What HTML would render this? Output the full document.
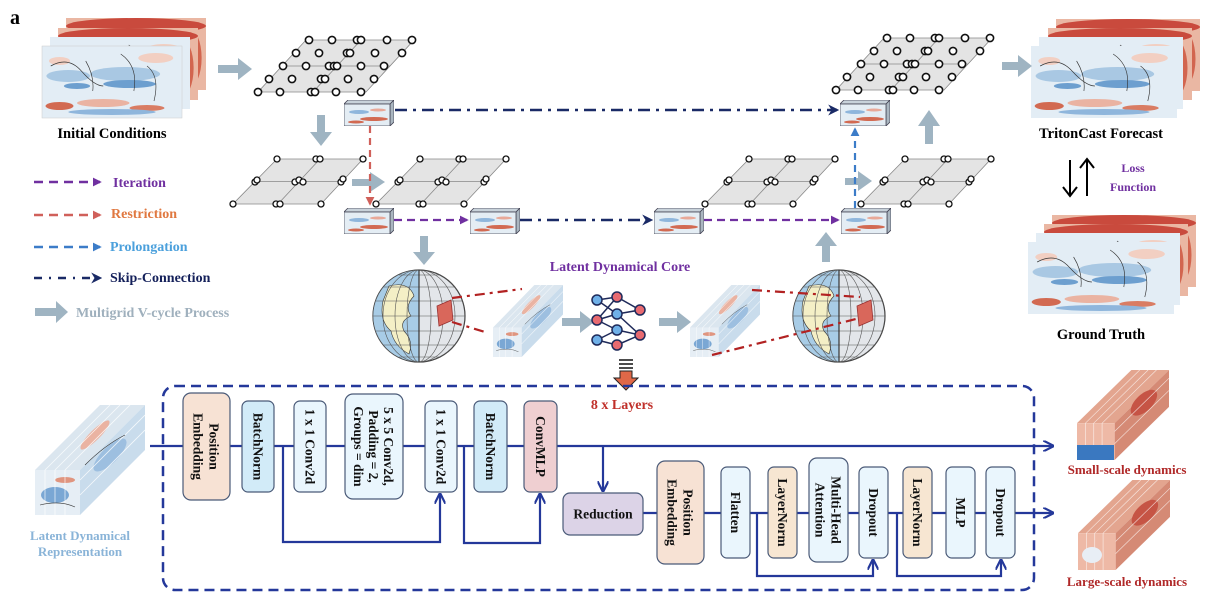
<!DOCTYPE html>
<html><head><meta charset="utf-8"><style>
html,body{margin:0;padding:0;background:#fff;}
svg{display:block;}
text{font-family:"Liberation Serif",serif;font-weight:bold;}
</style></head><body>
<svg width="1220" height="602" viewBox="0 0 1220 602" xmlns="http://www.w3.org/2000/svg">
<defs>
<symbol id="map" viewBox="0 0 160 72" preserveAspectRatio="none">
<rect width="160" height="72" fill="#e3edf5"/>
<ellipse cx="30" cy="30" rx="25" ry="6" fill="#a9c8e3"/>
<ellipse cx="95" cy="28" rx="40" ry="7" fill="#a9c8e3"/>
<ellipse cx="100" cy="38" rx="30" ry="4" fill="#6d9fcf"/>
<ellipse cx="40" cy="40" rx="15" ry="3" fill="#6d9fcf"/>
<ellipse cx="20" cy="15" rx="12" ry="4" fill="#f2cfc2"/>
<ellipse cx="130" cy="12" rx="20" ry="5" fill="#f2cfc2"/>
<ellipse cx="20" cy="60" rx="16" ry="4" fill="#d26a52"/>
<ellipse cx="70" cy="57" rx="30" ry="4" fill="#eab3a2"/>
<ellipse cx="120" cy="62" rx="20" ry="3" fill="#d97c63"/>
<ellipse cx="80" cy="66" rx="50" ry="3" fill="#8fb6dc"/>
<path d="M10 20 Q30 10 45 25 T70 40 M90 8 Q110 20 105 45 M120 20 Q135 30 128 55 M50 15 Q60 30 58 45" stroke="#333" stroke-width="0.7" fill="none"/>
</symbol>
<symbol id="mapred" viewBox="0 0 160 72" preserveAspectRatio="none">
<rect width="160" height="72" fill="#eab7a3"/>
<ellipse cx="80" cy="8" rx="80" ry="8" fill="#c94a3d"/>
<ellipse cx="140" cy="40" rx="15" ry="30" fill="#d2654f"/>
<path d="M10 15 Q40 5 70 18 T140 12" stroke="#333" stroke-width="0.7" fill="none"/>
</symbol>
<symbol id="fbox" viewBox="0 0 50 26">
<polygon points="0,4 4,0 50,0 46,4" fill="#c8d2da" stroke="#445" stroke-width="0.8"/>
<polygon points="46,4 50,0 50,22 46,26" fill="#aab6c0" stroke="#445" stroke-width="0.8"/>
<rect x="0" y="4" width="46" height="22" fill="#e4edf4" stroke="#445" stroke-width="0.8"/>
<ellipse cx="15" cy="12" rx="10" ry="2" fill="#8fb6dc"/>
<ellipse cx="30" cy="19" rx="14" ry="2" fill="#d26a52"/>
<ellipse cx="12" cy="22" rx="8" ry="1.5" fill="#d26a52"/>
<ellipse cx="34" cy="10" rx="8" ry="1.5" fill="#e8a898"/>
</symbol>
<marker id="ap" viewBox="0 0 10 10" refX="8" refY="5" markerUnits="userSpaceOnUse" markerWidth="9" markerHeight="9" orient="auto"><path d="M0 0L10 5L0 10z" fill="#7030a0"/></marker>
<marker id="ar" viewBox="0 0 10 10" refX="8" refY="5" markerUnits="userSpaceOnUse" markerWidth="9" markerHeight="9" orient="auto"><path d="M0 0L10 5L0 10z" fill="#d0605a"/></marker>
<marker id="ab" viewBox="0 0 10 10" refX="8" refY="5" markerUnits="userSpaceOnUse" markerWidth="9" markerHeight="9" orient="auto"><path d="M0 0L10 5L0 10z" fill="#3c7cc8"/></marker>
<marker id="an" viewBox="0 0 10 10" refX="8" refY="5" markerUnits="userSpaceOnUse" markerWidth="11" markerHeight="11" orient="auto"><path d="M0 0L10 5L0 10L3 5z" fill="#1a2a66"/></marker>
<marker id="ak" viewBox="0 0 10 10" refX="9" refY="5" markerUnits="userSpaceOnUse" markerWidth="11" markerHeight="11" orient="auto"><path d="M0 0L10 5L0 10" fill="none" stroke="#24389a" stroke-width="2"/></marker>
<symbol id="grid5" viewBox="0 0 160 56" overflow="visible">
<polygon points="2,54 110,54 158,2 50,2" fill="#e4e4e4" stroke="#888" stroke-width="0.8"/>
<line x1="26" y1="28" x2="134" y2="28" stroke="#888" stroke-width="0.8"/>
<line x1="57" y1="54" x2="105" y2="2" stroke="#888" stroke-width="0.8"/>
<g fill="#fff" stroke="#111" stroke-width="1.6">
<circle cx="53" cy="2" r="3.6"/><circle cx="76" cy="2" r="3.6"/><circle cx="101" cy="2" r="3.6"/><circle cx="105" cy="2" r="3.6"/><circle cx="131" cy="2" r="3.6"/><circle cx="156" cy="2" r="3.6"/>
<circle cx="40" cy="15" r="3.6"/><circle cx="63" cy="15" r="3.6"/><circle cx="91" cy="15" r="3.6"/><circle cx="94" cy="15" r="3.6"/><circle cx="119" cy="15" r="3.6"/><circle cx="146" cy="15" r="3.6"/>
<circle cx="27" cy="28" r="3.6"/><circle cx="50" cy="28" r="3.6"/><circle cx="73" cy="28" r="3.6"/><circle cx="78" cy="28" r="3.6"/><circle cx="81" cy="28" r="3.6"/><circle cx="105" cy="28" r="3.6"/><circle cx="128" cy="28" r="3.6"/>
<circle cx="13" cy="41" r="3.6"/><circle cx="36" cy="41" r="3.6"/><circle cx="65" cy="41" r="3.6"/><circle cx="69" cy="41" r="3.6"/><circle cx="92" cy="41" r="3.6"/><circle cx="118" cy="41" r="3.6"/>
<circle cx="2" cy="54" r="3.6"/><circle cx="24" cy="54" r="3.6"/><circle cx="55" cy="54" r="3.6"/><circle cx="59" cy="54" r="3.6"/><circle cx="80" cy="54" r="3.6"/><circle cx="105" cy="54" r="3.6"/>
</g>
</symbol>
<symbol id="grid3" viewBox="0 0 136 50" overflow="visible">
<polygon points="2,47 90,47 132,2 46,2" fill="#e4e4e4" stroke="#888" stroke-width="0.8"/>
<line x1="24" y1="24.5" x2="111" y2="24.5" stroke="#888" stroke-width="0.8"/>
<line x1="47" y1="47" x2="89" y2="2" stroke="#888" stroke-width="0.8"/>
<g fill="#fff" stroke="#111" stroke-width="1.3">
<circle cx="46" cy="2" r="3"/><circle cx="85" cy="2" r="3"/><circle cx="89" cy="2" r="3"/><circle cx="132" cy="2" r="3"/>
<circle cx="24" cy="25" r="3"/><circle cx="26" cy="23" r="3"/><circle cx="64" cy="25" r="3"/><circle cx="68" cy="23" r="3"/><circle cx="72" cy="25" r="3"/><circle cx="110" cy="25" r="3"/><circle cx="112" cy="22" r="3"/>
<circle cx="2" cy="47" r="3"/><circle cx="45" cy="47" r="3"/><circle cx="49" cy="47" r="3"/><circle cx="90" cy="47" r="3"/>
</g>
</symbol>
<symbol id="globe" viewBox="-48 -48 96 96">
<circle r="46" fill="#e3e6ea" stroke="#333" stroke-width="1.2"/>
<path d="M0 -46 A46 46 0 0 0 0 46 Z" fill="#a8cce6"/>
<path d="M-30 -30 Q-10 -35 -5 -20 Q-15 -10 -8 0 Q-20 5 -15 15 Q-5 25 -10 38 Q-25 30 -28 15 Q-40 5 -36 -15Z" fill="#f4efc6" stroke="#333" stroke-width="0.6"/>
<g fill="none" stroke="#555" stroke-width="0.6">
<ellipse rx="46" ry="46"/><ellipse rx="36" ry="46"/><ellipse rx="24" ry="46"/><ellipse rx="12" ry="46"/>
<line x1="-46" y1="0" x2="46" y2="0"/><line x1="-43" y1="-15" x2="43" y2="-15"/><line x1="-43" y1="15" x2="43" y2="15"/><line x1="-36" y1="-29" x2="36" y2="-29"/><line x1="-36" y1="29" x2="36" y2="29"/><line x1="-20" y1="-41" x2="20" y2="-41"/><line x1="-20" y1="41" x2="20" y2="41"/>
</g>
<line x1="0" y1="-46" x2="0" y2="46" stroke="#333" stroke-width="1.2"/>
<polygon points="18,-10 32,-16 34,4 20,10" fill="#d9675b" stroke="#933" stroke-width="0.8"/>
</symbol>
<symbol id="cube" viewBox="0 0 110 110" preserveAspectRatio="none">
<polygon points="0,65 65,0 110,0 45,65" fill="#dbe6ef"/>
<polygon points="45,65 110,0 110,45 45,110" fill="#c9dcec"/>
<rect x="0" y="65" width="45" height="45" fill="#e6eef5"/>
<ellipse cx="20" cy="90" rx="14" ry="8" fill="#7aa7d4"/><ellipse cx="30" cy="75" rx="10" ry="3" fill="#e0957f"/>
<ellipse cx="75" cy="50" rx="22" ry="8" fill="#9dbfe0" transform="rotate(-45 75 50)"/>
<ellipse cx="60" cy="30" rx="20" ry="5" fill="#eab3a2" transform="rotate(-45 60 30)"/>
<path d="M10 65 L75 0 M20 65 L85 0 M30 65 L95 0 M45 75 L110 10 M45 90 L110 25 M10 65 V110 M20 65 V110 M30 65 V110" stroke="#fff" stroke-width="0.8" opacity="0.8"/>
<path d="M5 100 Q25 95 40 102 M50 60 Q70 40 90 30" stroke="#333" stroke-width="0.6" fill="none"/>
</symbol>
<symbol id="cubered" viewBox="0 0 110 110" preserveAspectRatio="none">
<polygon points="0,65 65,0 110,0 45,65" fill="#e3a58f"/>
<polygon points="45,65 110,0 110,45 45,110" fill="#d58a75"/>
<rect x="0" y="65" width="45" height="45" fill="#eeb9a6"/>
<ellipse cx="80" cy="40" rx="20" ry="10" fill="#c65445" transform="rotate(-45 80 40)"/>
<path d="M10 65 L75 0 M20 65 L85 0 M30 65 L95 0 M45 75 L110 10 M45 90 L110 25 M10 65 V110 M20 65 V110 M30 65 V110" stroke="#fff" stroke-width="0.8" opacity="0.7"/>
</symbol>
</defs>

<text x="10" y="24" font-size="20">a</text>

<use href="#mapred" x="66" y="18" width="140" height="72"/>
<use href="#mapred" x="58" y="28" width="140" height="72"/>
<use href="#map" x="50" y="37" width="140" height="72"/>
<rect x="42" y="46" width="140" height="72" fill="#fff"/>
<use href="#map" x="42" y="46" width="140" height="72"/>
<rect x="42" y="46" width="140" height="72" fill="none" stroke="#ccc" stroke-width="0.5"/>
<text x="112" y="138" font-size="14.5" text-anchor="middle">Initial Conditions</text>

<use href="#mapred" x="1056" y="19" width="144" height="72"/>
<use href="#mapred" x="1048" y="28" width="144" height="72"/>
<use href="#map" x="1039" y="37" width="144" height="72"/>
<rect x="1031" y="46" width="146" height="72" fill="#fff"/>
<use href="#map" x="1031" y="46" width="146" height="72"/>
<text x="1101" y="138" font-size="14.5" text-anchor="middle">TritonCast Forecast</text>
<use href="#mapred" x="1052" y="215" width="144" height="72"/>
<use href="#mapred" x="1044" y="224" width="144" height="72"/>
<use href="#map" x="1036" y="233" width="144" height="72"/>
<rect x="1028" y="242" width="146" height="72" fill="#fff"/>
<use href="#map" x="1028" y="242" width="146" height="72"/>
<text x="1101" y="339" font-size="14.5" text-anchor="middle">Ground Truth</text>
<path d="M1070 160 V195 M1063 187 L1070 196 L1077 187" stroke="#000" stroke-width="2" fill="none"/>
<path d="M1087 196 V160 M1080 168 L1087 159 L1094 168" stroke="#000" stroke-width="2" fill="none"/>
<text x="1133" y="172" font-size="12" fill="#7030a0" text-anchor="middle">Loss</text>
<text x="1133" y="191" font-size="12" fill="#7030a0" text-anchor="middle">Function</text>

<use href="#grid5" x="256" y="38" width="160" height="56"/>
<use href="#grid5" x="834" y="36" width="160" height="56"/>
<use href="#grid3" x="231" y="157" width="136" height="50"/>
<use href="#grid3" x="374" y="157" width="136" height="50"/>
<use href="#grid3" x="703" y="157" width="136" height="50"/>
<use href="#grid3" x="859" y="157" width="136" height="50"/>

<g fill="#9fb4c2">
<path d="M218 65 H238 V58 L252 69 L238 80 V73 H218Z"/>
<path d="M1002 62 H1018 V55 L1032 66 L1018 77 V70 H1002Z"/>
<path d="M317 115 V132 H310 L321 146 L332 132 H325 V115Z"/>
<path d="M352 179 H370 V172 L385 182 L370 192 V186 H352Z"/>
<path d="M845 178 H858 V171 L872 181 L858 191 V185 H845Z"/>
<path d="M925 144 V126 H918 L929 110 L940 126 H933 V144Z"/>
<path d="M420 236 V252 H413 L424 265 L435 252 H428 V236Z"/>
<path d="M822 262 V246 H815 L826 232 L837 246 H830 V262Z"/>
<path d="M562 318 H580 V311 L594 322 L580 333 V326 H562Z"/>
<path d="M659 318 H677 V311 L691 322 L677 333 V326 H659Z"/>
</g>

<use href="#fbox" x="344" y="100" width="50" height="26"/>
<use href="#fbox" x="840" y="100" width="50" height="26"/>
<use href="#fbox" x="344" y="208" width="50" height="26"/>
<use href="#fbox" x="470" y="208" width="50" height="26"/>
<use href="#fbox" x="654" y="208" width="50" height="26"/>
<use href="#fbox" x="841" y="208" width="50" height="26"/>

<line x1="395" y1="110" x2="837" y2="110" stroke="#1a2a66" stroke-width="2.5" stroke-dasharray="12 6 3 6" marker-end="url(#an)"/>
<line x1="370" y1="126" x2="370" y2="204" stroke="#d0605a" stroke-width="2.2" stroke-dasharray="7 5" marker-end="url(#ar)"/>
<line x1="394" y1="220" x2="467" y2="220" stroke="#7030a0" stroke-width="2.2" stroke-dasharray="8 5" marker-end="url(#ap)"/>
<line x1="520" y1="220" x2="651" y2="220" stroke="#1a2a66" stroke-width="2.5" stroke-dasharray="12 6 3 6" marker-end="url(#an)"/>
<line x1="704" y1="220" x2="838" y2="220" stroke="#7030a0" stroke-width="2.2" stroke-dasharray="8 5" marker-end="url(#ap)"/>
<line x1="855" y1="208" x2="855" y2="129" stroke="#3c7cc8" stroke-width="2.2" stroke-dasharray="7 5" marker-end="url(#ab)"/>

<line x1="34" y1="182" x2="100" y2="182" stroke="#7030a0" stroke-width="2.5" stroke-dasharray="9 6" marker-end="url(#ap)"/>
<text x="113" y="187" font-size="14" fill="#7030a0">Iteration</text>
<line x1="34" y1="215" x2="100" y2="215" stroke="#d0605a" stroke-width="2.5" stroke-dasharray="9 6" marker-end="url(#ar)"/>
<text x="111" y="218" font-size="14" fill="#e07840">Restriction</text>
<line x1="34" y1="247" x2="100" y2="247" stroke="#3c7cc8" stroke-width="2.5" stroke-dasharray="9 6" marker-end="url(#ab)"/>
<text x="110" y="251" font-size="14" fill="#4ba0dc">Prolongation</text>
<line x1="34" y1="278" x2="100" y2="278" stroke="#1a2a66" stroke-width="2.5" stroke-dasharray="8 7 2 7" marker-end="url(#an)"/>
<text x="110" y="282" font-size="14" fill="#14205a">Skip-Connection</text>
<path d="M35 308 H56 V301 L68 312 L56 323 V316 H35Z" fill="#9fb4c2"/>
<text x="76" y="317" font-size="14" fill="#9fb0bd">Multigrid V-cycle Process</text>

<text x="620" y="271" font-size="14" fill="#7030a0" text-anchor="middle">Latent Dynamical  Core</text>
<use href="#globe" x="371" y="268" width="96" height="96"/>
<use href="#globe" x="791" y="268" width="96" height="96"/>
<use href="#cube" x="493" y="285" width="70" height="72"/>
<use href="#cube" x="690" y="285" width="70" height="72"/>
<g stroke="#b22222" stroke-width="2.2" stroke-dasharray="10 5 3 5" fill="none">
<line x1="452" y1="298" x2="522" y2="289"/><line x1="452" y1="322" x2="485" y2="332"/>
<line x1="752" y1="290" x2="860" y2="297"/><line x1="712" y1="355" x2="860" y2="318"/>
</g>
<g stroke="#1f2a5a" stroke-width="1.5">
<line x1="597" y1="300" x2="617" y2="297"/><line x1="597" y1="300" x2="617" y2="314"/><line x1="597" y1="320" x2="617" y2="297"/><line x1="597" y1="320" x2="617" y2="314"/><line x1="597" y1="320" x2="617" y2="330"/><line x1="597" y1="340" x2="617" y2="330"/><line x1="597" y1="340" x2="617" y2="345"/>
<line x1="617" y1="297" x2="640" y2="310"/><line x1="617" y1="314" x2="640" y2="310"/><line x1="617" y1="330" x2="640" y2="335"/><line x1="617" y1="345" x2="640" y2="335"/><line x1="617" y1="314" x2="640" y2="335"/>
</g>
<g stroke="#1f2a5a" stroke-width="1.5">
<circle cx="597" cy="300" r="5" fill="#6fb0e8"/><circle cx="597" cy="320" r="5" fill="#e86a70"/><circle cx="597" cy="340" r="5" fill="#6fb0e8"/>
<circle cx="617" cy="297" r="5" fill="#e86a70"/><circle cx="617" cy="314" r="5" fill="#6fb0e8"/><circle cx="617" cy="330" r="5" fill="#6fb0e8"/><circle cx="617" cy="345" r="5" fill="#e86a70"/>
<circle cx="640" cy="310" r="5" fill="#e86a70"/><circle cx="640" cy="335" r="5" fill="#e86a70"/>
</g>
<g stroke="#111" stroke-width="1.5"><line x1="619" y1="360" x2="633" y2="360"/><line x1="619" y1="364" x2="633" y2="364"/><line x1="619" y1="368" x2="633" y2="368"/></g>
<path d="M620 371 H632 V378 H638 L626 390 L614 378 H620Z" fill="#e06848" stroke="#222" stroke-width="1"/>
<text x="622" y="409" font-size="14" fill="#c0302a" text-anchor="middle">8 x Layers</text>

<rect x="163" y="386" width="871" height="204" rx="12" fill="none" stroke="#24389a" stroke-width="2.5" stroke-dasharray="10 6"/>

<g stroke="#24389a" stroke-width="2.2" fill="none">
<line x1="150" y1="446" x2="1053" y2="446" marker-end="url(#ak)"/>
<line x1="643" y1="513" x2="1053" y2="513" marker-end="url(#ak)"/>
<line x1="603" y1="446" x2="603" y2="491" marker-end="url(#ak)"/>
<path d="M283 446 V542 H440 V494" marker-end="url(#ak)"/>
<path d="M464 446 V543 H540 V494" marker-end="url(#ak)"/>
<path d="M757 513 V576 H873 V560" marker-end="url(#ak)"/>
<path d="M897 513 V576 H1001 V560" marker-end="url(#ak)"/>
</g>

<g stroke="#4a5a78" stroke-width="1.2">
<rect x="183" y="393" width="47" height="107" rx="8" fill="#f7e2d4"/>
<rect x="242" y="401" width="32" height="91" rx="6" fill="#d2ebf8"/>
<rect x="294" y="401" width="32" height="91" rx="6" fill="#eaf6fd"/>
<rect x="345" y="394" width="58" height="105" rx="8" fill="#eaf6fd"/>
<rect x="425" y="401" width="32" height="91" rx="6" fill="#eaf6fd"/>
<rect x="474" y="401" width="33" height="91" rx="6" fill="#d2ebf8"/>
<rect x="524" y="401" width="33" height="91" rx="6" fill="#efcfd1"/>
<rect x="563" y="493" width="80" height="42" rx="7" fill="#dcd3e7"/>
<rect x="657" y="461" width="47" height="103" rx="8" fill="#f7e2d4"/>
<rect x="721" y="467" width="29" height="91" rx="6" fill="#eaf6fd"/>
<rect x="768" y="467" width="29" height="91" rx="6" fill="#f7e6d2"/>
<rect x="809" y="458" width="39" height="104" rx="8" fill="#eaf6fd"/>
<rect x="859" y="467" width="29" height="91" rx="6" fill="#eaf6fd"/>
<rect x="903" y="467" width="29" height="91" rx="6" fill="#f7e6d2"/>
<rect x="946" y="467" width="29" height="91" rx="6" fill="#eaf6fd"/>
<rect x="986" y="467" width="29" height="91" rx="6" fill="#eaf6fd"/>
</g>
<g font-size="13.5" text-anchor="middle" dominant-baseline="central" fill="#111">
<text transform="translate(206.5,446.5) rotate(90)"><tspan x="0" y="-8">Position</tspan><tspan x="0" y="8">Embedding</tspan></text>
<text transform="translate(258,446.5) rotate(90)">BatchNorm</text>
<text transform="translate(310,446.5) rotate(90)">1 x 1 Conv2d</text>
<text transform="translate(374,446.5) rotate(90)"><tspan x="0" y="-15">5 x 5 Conv2d,</tspan><tspan x="0" y="0">Padding = 2,</tspan><tspan x="0" y="15">Groups = dim</tspan></text>
<text transform="translate(441,446.5) rotate(90)">1 x 1 Conv2d</text>
<text transform="translate(490.5,446.5) rotate(90)">BatchNorm</text>
<text transform="translate(540.5,446.5) rotate(90)">ConvMLP</text>
<text x="603" y="514">Reduction</text>
<text transform="translate(680.5,512.5) rotate(90)"><tspan x="0" y="-8">Position</tspan><tspan x="0" y="8">Embedding</tspan></text>
<text transform="translate(735.5,512.5) rotate(90)">Flatten</text>
<text transform="translate(782.5,512.5) rotate(90)">LayerNorm</text>
<text transform="translate(828.5,510) rotate(90)"><tspan x="0" y="-8">Multi-Head</tspan><tspan x="0" y="8">Attention</tspan></text>
<text transform="translate(873.5,512.5) rotate(90)">Dropout</text>
<text transform="translate(917.5,512.5) rotate(90)">LayerNorm</text>
<text transform="translate(960.5,512.5) rotate(90)">MLP</text>
<text transform="translate(1000.5,512.5) rotate(90)">Dropout</text>
</g>

<use href="#cube" x="35" y="405" width="110" height="110"/>
<text x="80" y="540" font-size="13" fill="#8ab4d8" text-anchor="middle">Latent Dynamical</text>
<text x="80" y="556" font-size="13" fill="#8ab4d8" text-anchor="middle">Representation</text>

<use href="#cubered" x="1077" y="370" width="92" height="90"/>
<rect x="1077" y="445" width="37" height="15" fill="#3a78c0"/>
<text x="1127" y="474" font-size="13" fill="#b02828" text-anchor="middle">Small-scale dynamics</text>
<use href="#cubered" x="1078" y="480" width="92" height="90"/>
<ellipse cx="1092" cy="555" rx="10" ry="8" fill="#e8eef5"/>
<text x="1127" y="586" font-size="13" fill="#b02828" text-anchor="middle">Large-scale dynamics</text>
</svg>
</body></html>
